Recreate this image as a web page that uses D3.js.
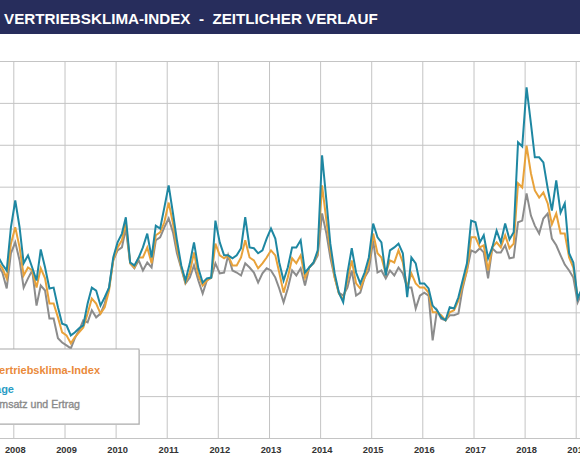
<!DOCTYPE html>
<html>
<head>
<meta charset="utf-8">
<script src="https://cdn.jsdelivr.net/npm/d3@7"></script>
<style>
  body { margin: 0; background: #fff; }
  svg { display: block; font-family: "Liberation Sans", Arial, sans-serif; }
</style>
</head>
<body>
<div id="chart"></div>
<script>
const ancho = 580
const alto = 460

// eje x: años (etiquetas) y meses de los datos (sep 2007 - feb 2019)
const anios = [2008, 2009, 2010, 2011, 2012, 2013, 2014, 2015, 2016, 2017, 2018, 2019]
const primerMes = new Date(2007, 8, 1)
const ultimoMes = new Date(2019, 1, 1)

// Aktuelle Lage (azul)
const lage = [
  3.3, 1.4, 0, 10.3,
  16.7, 10.3, 1.7, 3.6, 0.7, -2.4, 5.0, 0.7, -4.3, -4.1, -8.8, -12.7,
  -13.1, -15.5, -14.8, -13.8, -13.1, -7.9, -4.1, -4.8, -8.4, -6.4, -4.1, 3.1,
  6.7, 8.8, 12.7, 1.9, 1.2, 3.1, 5.5, 8.8, 3.1, 10.7, 10.0, 15.0,
  20.3, 13.6, 7.2, 1.2, -2.4, 1.7, 6.7, 0.5, -2.9, -1.9, -1.7, 11.9,
  6.7, 3.6, 3.6, 2.9, 3.6, 5.3, 12.7, 5.5, 5.3, 4.1, 4.8, 7.6,
  10.0, 7.6, 1.9, -2.4, 0.7, 5.5, 5.5, 7.2, -0.5, 0.7, 1.9, 4.8,
  27.5, 16.7, 6.4, -0.7, -5.3, -7.6, -0.7, 5.3, -0.5, -3.1, -0.5, 3.1,
  11.2, 7.9, 6.7, -1.2, 4.8, 5.5, 6.4, 4.1, -6.4, 3.1, 1.7, -3.1,
  -3.1, -4.3, -8.4, -9.5, -11.2, -11.9, -8.8, -9.1, -6.4, -2.4, 1.7, 11.9,
  11.5, 6.7, 8.4, 2.9, 5.5, 9.5, 6.7, 11.2, 7.4, 9.1, 30.6, 29.6,
  43.7, 35.1, 27.0, 27.0, 25.8, 19.6, 14.3, 21.5, 13.8, 16.0, 4.1, 1.9,
  -6.7, -4.3
]

// Vertriebsklima-Index (naranja)
const indice = [
  1.9, 0.5, -1.9, 6.4,
  10.3, 5.5, -1.2, 0.7, 0, -4.1, 0.5, -1.9, -7.9, -7.9, -11.2, -14.8,
  -15.5, -17.4, -16.0, -14.8, -13.6, -10.3, -6.7, -7.9, -10.3, -8.8, -4.8, 2.4,
  5.5, 7.2, 11.5, 1.7, 0.7, 3.1, 3.1, 5.5, 1.7, 8.4, 9.1, 11.5,
  16.2, 11.2, 5.5, 0.7, -2.9, -0.5, 4.3, -1.2, -3.6, -2.4, -1.7, 6.4,
  3.6, 2.9, 3.6, 1.2, 1.2, 3.1, 7.2, 3.1, 2.4, 0.5, 1.7, 3.1,
  4.8, 3.6, -0.5, -5.3, -1.7, 2.9, 1.7, 3.6, -1.7, 0.7, 1.9, 4.1,
  20.3, 11.9, 4.8, -1.7, -5.5, -6.9, -2.4, 2.4, -3.1, -4.3, -1.7, 1.7,
  8.8, 4.1, 3.1, -0.7, 2.4, 1.9, 4.8, 1.9, -4.1, -0.7, -3.1, -4.1,
  -4.1, -5.3, -10.0, -10.0, -10.7, -11.9, -10.0, -9.5, -7.2, -3.6, 0, 7.9,
  7.9, 5.5, 6.0, 0, 5.5, 6.7, 5.5, 8.4, 5.3, 6.4, 20.8, 19.8,
  29.8, 23.2, 19.1, 17.4, 18.6, 16.0, 11.0, 13.6, 8.8, 8.8, 3.1, 0.7,
  -6.4, -4.8
]

// Erwartungen Umsatz und Ertrag (gris)
const erwartung = [
  1.2, -0.5, -4.3, 4.1,
  6.7, 2.4, -4.1, -1.9, 0, -8.4, -3.6, -4.8, -11.5, -11.5, -16.2, -17.2,
  -17.9, -18.6, -16.2, -14.3, -11.9, -12.4, -9.5, -11.2, -10.3, -7.9, -4.1, 2.4,
  4.8, 5.5, 10.0, 1.7, 0.5, 2.4, 0, 1.9, 0.7, 7.2, 7.9, 10.3,
  12.4, 9.1, 4.1, 0.5, -3.1, -1.7, 1.2, -2.4, -5.5, -2.4, -1.7, 1.7,
  -0.7, -0.5, 3.6, 0, -0.5, -1.2, 1.7, 0.7, -0.5, -2.9, -0.7, 0.5,
  0, -1.7, -4.3, -7.6, -4.3, 0, -1.2, 0.5, -3.6, 0.7, 1.7, 3.6,
  13.6, 8.8, 3.1, -1.7, -5.3, -6.0, -4.1, 0, -6.0, -5.3, -1.7, 0,
  7.2, -0.5, 0, -1.9, 0, -1.2, 0.7, -0.7, -4.1, -4.1, -9.1, -6.0,
  -5.3, -6.0, -16.7, -9.5, -11.5, -11.9, -10.7, -10.7, -10.3, -4.3, 0, 4.8,
  4.3, 5.3, 4.3, -1.9, 5.3, 4.3, 4.3, 6.0, 2.9, 3.1, 11.5, 11.9,
  18.4, 13.1, 10.7, 8.8, 12.4, 13.6, 7.6, 6.0, 3.6, 1.4, 0, -1.7,
  -7.6, -5.3
]

const leyenda = ["Vertriebsklima-Index", "Aktuelle Lage", "Erwartungen Umsatz und Ertrag"]
const titulo = "VERTRIEBSKLIMA-INDEX  -  ZEITLICHER VERLAUF"

const meses = d3.timeMonth.range(primerMes, d3.timeMonth.offset(ultimoMes, 1))

const svg = d3.select("#chart").append("svg").attr("width", ancho).attr("height", alto)

// cabecera
svg.append("rect").attr("x", 0).attr("y", 0).attr("width", ancho).attr("height", 34).attr("fill", "#272d5c")
svg.append("text").attr("x", 4).attr("y", 24)
    .attr("fill", "#fff").attr("font-weight", "bold").attr("font-size", 15.2)
    .style("white-space", "pre").text(titulo)

const x = d3.scaleTime().domain([new Date(2008, 0, 1), new Date(2019, 0, 1)]).range([13.3, 575.7])
const y = d3.scaleLinear().domain([-40, 50]).range([438, 61])
const medioMes = d => d3.timeDay.offset(d, 14)

// rejilla horizontal
const gridY = svg.append("g").call(d3.axisRight(y).tickValues(d3.range(-40, 51, 10)).tickSize(ancho).tickFormat(""))
gridY.select(".domain").remove()
gridY.selectAll("line").attr("stroke", "#c4c4c4")

// rejilla vertical
const fechasAnio = anios.map(a => new Date(a, 0, 1))
const gridX = svg.append("g").attr("transform", `translate(0, ${y(-40)})`)
    .call(d3.axisBottom(x).tickValues(fechasAnio).tickSize(-(y(-40) - y(50))).tickFormat(""))
gridX.select(".domain").remove()
gridX.selectAll("line").attr("stroke", "#c4c4c4")

// etiquetas de años
svg.append("g").selectAll("text").data(anios).enter().append("text")
    .attr("x", a => x(medioMes(new Date(a, 0, 1))))
    .attr("y", 453)
    .attr("text-anchor", "middle")
    .attr("font-size", 9.3).attr("font-weight", "bold").attr("fill", "#333")
    .text(a => a)

// líneas
const series = [
  { valores: erwartung, color: "#8c8c8c" },
  { valores: indice, color: "#e8a23a" },
  { valores: lage, color: "#1e87a2" }
]
const linea = d3.line()
    .x((d, i) => x(medioMes(meses[i])))
    .y(d => y(d))

svg.append("g").selectAll("path").data(series).enter().append("path")
    .attr("d", s => linea(s.valores))
    .attr("fill", "none")
    .attr("stroke", s => s.color)
    .attr("stroke-width", 2)
    .attr("stroke-linejoin", "miter")

// leyenda (cortada por el borde izquierdo)
const grupoLeyenda = svg.append("g")
grupoLeyenda.append("rect").attr("x", -200).attr("y", 350).attr("width", 340).attr("height", 75).attr("fill", "#d8d8d8")
grupoLeyenda.append("rect").attr("x", -200).attr("y", 349).attr("width", 339).attr("height", 75)
    .attr("fill", "#fff").attr("stroke", "#a8a8a8")
const textosLeyenda = [
  { texto: leyenda[0], xFin: 100, yBase: 373.5, color: "#ea8a3a", peso: "bold", tam: 11 },
  { texto: leyenda[1], xFin: 14, yBase: 392.5, color: "#2a9cc4", peso: "bold", tam: 11 },
  { texto: leyenda[2], xFin: 80, yBase: 407.5, color: "#8a8a8a", peso: "normal", tam: 10.6 }
]
grupoLeyenda.selectAll("text").data(textosLeyenda).enter().append("text")
    .attr("x", d => d.xFin).attr("y", d => d.yBase)
    .attr("text-anchor", "end")
    .attr("font-size", d => d.tam).attr("font-weight", d => d.peso)
    .attr("fill", d => d.color)
    .attr("stroke", d => d.peso === "normal" ? d.color : "none")
    .attr("stroke-width", 0.35)
    .text(d => d.texto)
</script>
</body>
</html>
